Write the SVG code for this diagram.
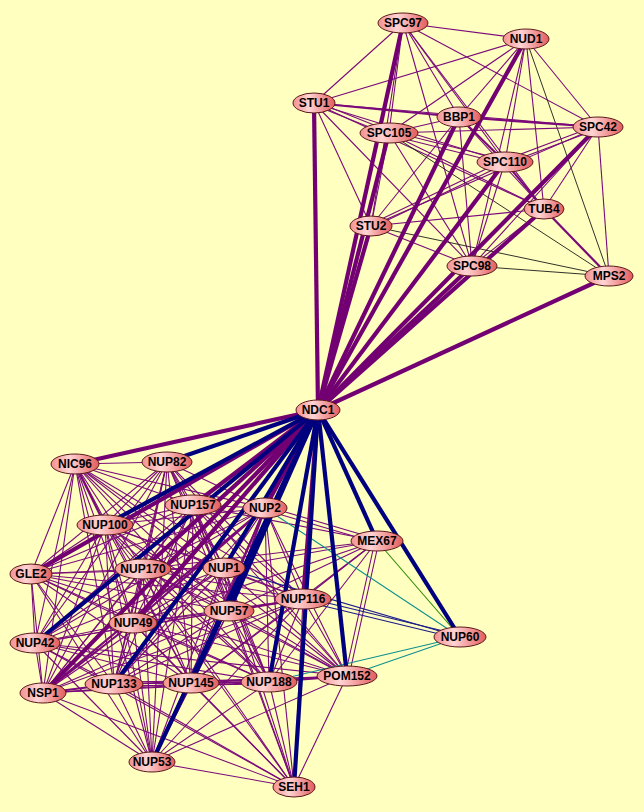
<svg xmlns="http://www.w3.org/2000/svg" width="644" height="812" viewBox="0 0 644 812">
<defs>
<linearGradient id="ng" x1="0" y1="0" x2="1" y2="0">
<stop offset="0" stop-color="#f29090"/>
<stop offset="0.38" stop-color="#ffd4d4"/>
<stop offset="1" stop-color="#e45c5c"/>
</linearGradient>
<style>
.t{stroke:#7a0a7a;stroke-width:1.1;fill:none}
.m{stroke:#7a0a7a;stroke-width:2.2;fill:none}
.k{stroke:#1a1a1a;stroke-width:0.9;fill:none}
.tl{stroke:#0f8f8f;stroke-width:1.1;fill:none}
.gr{stroke:#2a8a00;stroke-width:1.1;fill:none}
.nv{stroke:#1a1a8a;stroke-width:1.2;fill:none}
.P{stroke:#720072;stroke-width:4.2;fill:none}
.N{stroke:#00007f;stroke-width:4.2;fill:none}
.n ellipse{fill:url(#ng);stroke:#5a1a1a;stroke-width:1}
.n text{font-family:"Liberation Sans",Arial,sans-serif;font-weight:bold;font-size:12px;fill:#000;text-anchor:middle}
</style>
</defs>
<rect width="644" height="812" fill="#ffffc0"/>
<g id="connectors">
<!-- upper cluster thin -->
<line class="t" x1="403" y1="23" x2="526" y2="39"/>
<line class="t" x1="403" y1="23" x2="314" y2="103"/>
<line class="t" x1="403" y1="23" x2="598" y2="127"/>
<line class="t" x1="403" y1="23" x2="505" y2="162"/>
<line class="t" x1="403" y1="23" x2="544" y2="209"/>
<line class="t" x1="403" y1="23" x2="472" y2="266"/>
<line class="t" x1="403" y1="23" x2="459" y2="117"/>
<line class="t" x1="403" y1="23" x2="389" y2="133"/>
<line class="t" x1="403" y1="23" x2="371" y2="226"/>
<line class="t" x1="526" y1="39" x2="314" y2="103"/>
<line class="t" x1="526" y1="39" x2="389" y2="133"/>
<line class="t" x1="526" y1="39" x2="459" y2="117"/>
<line class="t" x1="526" y1="39" x2="505" y2="162"/>
<line class="t" x1="526" y1="39" x2="544" y2="209"/>
<line class="t" x1="526" y1="39" x2="598" y2="127"/>
<line class="t" x1="526" y1="39" x2="472" y2="266"/>
<line class="k" x1="526" y1="39" x2="609" y2="276"/>
<line class="m" x1="314" y1="103" x2="459" y2="117"/>
<line class="t" x1="314" y1="101" x2="389" y2="131"/>
<line class="t" x1="314" y1="105" x2="389" y2="135"/>
<line class="t" x1="314" y1="103" x2="505" y2="162"/>
<line class="t" x1="314" y1="103" x2="598" y2="127"/>
<line class="t" x1="314" y1="103" x2="544" y2="209"/>
<line class="t" x1="314" y1="103" x2="371" y2="226"/>
<line class="t" x1="314" y1="103" x2="472" y2="266"/>
<line class="t" x1="459" y1="117" x2="389" y2="133"/>
<line class="m" x1="459" y1="117" x2="598" y2="127"/>
<line class="m" x1="459" y1="117" x2="505" y2="162"/>
<line class="t" x1="459" y1="117" x2="544" y2="209"/>
<line class="t" x1="459" y1="117" x2="371" y2="226"/>
<line class="t" x1="459" y1="117" x2="472" y2="266"/>
<line class="t" x1="389" y1="133" x2="598" y2="127"/>
<line class="t" x1="389" y1="131" x2="505" y2="160"/>
<line class="t" x1="389" y1="135" x2="505" y2="164"/>
<line class="t" x1="389" y1="133" x2="544" y2="209"/>
<line class="t" x1="389" y1="133" x2="371" y2="226"/>
<line class="t" x1="389" y1="133" x2="472" y2="266"/>
<line class="k" x1="389" y1="133" x2="609" y2="276"/>
<line class="t" x1="598" y1="125" x2="505" y2="160"/>
<line class="t" x1="598" y1="129" x2="505" y2="164"/>
<line class="t" x1="598" y1="127" x2="544" y2="209"/>
<line class="t" x1="598" y1="127" x2="371" y2="226"/>
<line class="t" x1="598" y1="127" x2="472" y2="266"/>
<line class="t" x1="598" y1="127" x2="609" y2="276"/>
<line class="m" x1="505" y1="162" x2="544" y2="209"/>
<line class="t" x1="505" y1="160" x2="371" y2="224"/>
<line class="t" x1="505" y1="164" x2="371" y2="228"/>
<line class="t" x1="505" y1="162" x2="472" y2="266"/>
<line class="t" x1="544" y1="209" x2="371" y2="226"/>
<line class="t" x1="544" y1="209" x2="472" y2="266"/>
<line class="m" x1="544" y1="209" x2="609" y2="276"/>
<line class="t" x1="371" y1="226" x2="472" y2="266"/>
<line class="k" x1="371" y1="226" x2="609" y2="276"/>
<line class="k" x1="472" y1="266" x2="609" y2="276"/>
<!-- lower cluster thin -->
<line class="t" x1="75" y1="464" x2="167" y2="462"/>
<line class="t" x1="75" y1="464" x2="193" y2="505"/>
<line class="t" x1="75" y1="464" x2="265" y2="508"/>
<line class="m" x1="75" y1="464" x2="105" y2="525"/>
<line class="t" x1="75" y1="464" x2="31" y2="574"/>
<line class="t" x1="75" y1="464" x2="143" y2="569"/>
<line class="t" x1="75" y1="464" x2="224" y2="568"/>
<line class="t" x1="75" y1="464" x2="303" y2="599"/>
<line class="t" x1="75" y1="464" x2="229" y2="611"/>
<line class="t" x1="75" y1="464" x2="133" y2="623"/>
<line class="t" x1="75" y1="464" x2="35" y2="643"/>
<line class="t" x1="75" y1="464" x2="43" y2="693"/>
<line class="t" x1="75" y1="464" x2="114" y2="684"/>
<line class="t" x1="75" y1="464" x2="191" y2="683"/>
<line class="t" x1="75" y1="464" x2="269" y2="682"/>
<line class="t" x1="75" y1="464" x2="347" y2="676"/>
<line class="t" x1="75" y1="464" x2="152" y2="762"/>
<line class="t" x1="167" y1="462" x2="193" y2="505"/>
<line class="t" x1="167" y1="462" x2="265" y2="508"/>
<line class="t" x1="167" y1="462" x2="105" y2="525"/>
<line class="t" x1="167" y1="462" x2="31" y2="574"/>
<line class="t" x1="167" y1="462" x2="143" y2="569"/>
<line class="t" x1="167" y1="462" x2="224" y2="568"/>
<line class="t" x1="167" y1="462" x2="303" y2="599"/>
<line class="t" x1="167" y1="462" x2="229" y2="611"/>
<line class="t" x1="167" y1="462" x2="133" y2="623"/>
<line class="t" x1="167" y1="462" x2="35" y2="643"/>
<line class="t" x1="167" y1="462" x2="43" y2="693"/>
<line class="t" x1="167" y1="462" x2="114" y2="684"/>
<line class="t" x1="167" y1="462" x2="191" y2="683"/>
<line class="t" x1="167" y1="462" x2="269" y2="682"/>
<line class="t" x1="167" y1="462" x2="347" y2="676"/>
<line class="t" x1="167" y1="462" x2="152" y2="762"/>
<line class="t" x1="193" y1="505" x2="265" y2="508"/>
<line class="t" x1="193" y1="505" x2="105" y2="525"/>
<line class="t" x1="193" y1="505" x2="31" y2="574"/>
<line class="t" x1="193" y1="505" x2="143" y2="569"/>
<line class="t" x1="193" y1="505" x2="224" y2="568"/>
<line class="t" x1="193" y1="505" x2="303" y2="599"/>
<line class="t" x1="193" y1="505" x2="229" y2="611"/>
<line class="t" x1="193" y1="505" x2="133" y2="623"/>
<line class="t" x1="193" y1="505" x2="35" y2="643"/>
<line class="t" x1="193" y1="505" x2="43" y2="693"/>
<line class="t" x1="193" y1="505" x2="114" y2="684"/>
<line class="t" x1="193" y1="505" x2="191" y2="683"/>
<line class="t" x1="193" y1="505" x2="269" y2="682"/>
<line class="t" x1="193" y1="505" x2="347" y2="676"/>
<line class="t" x1="193" y1="505" x2="152" y2="762"/>
<line class="t" x1="193" y1="505" x2="294" y2="787"/>
<line class="t" x1="265" y1="508" x2="105" y2="525"/>
<line class="t" x1="265" y1="508" x2="31" y2="574"/>
<line class="t" x1="265" y1="508" x2="143" y2="569"/>
<line class="t" x1="265" y1="508" x2="224" y2="568"/>
<line class="t" x1="265" y1="508" x2="303" y2="599"/>
<line class="m" x1="265" y1="508" x2="229" y2="611"/>
<line class="m" x1="265" y1="508" x2="133" y2="623"/>
<line class="t" x1="265" y1="508" x2="35" y2="643"/>
<line class="m" x1="265" y1="508" x2="43" y2="693"/>
<line class="t" x1="265" y1="508" x2="114" y2="684"/>
<line class="m" x1="265" y1="508" x2="191" y2="683"/>
<line class="t" x1="265" y1="508" x2="269" y2="682"/>
<line class="t" x1="265" y1="508" x2="347" y2="676"/>
<line class="t" x1="265" y1="508" x2="152" y2="762"/>
<line class="t" x1="265" y1="508" x2="294" y2="787"/>
<line class="t" x1="105" y1="525" x2="31" y2="574"/>
<line class="t" x1="105" y1="525" x2="143" y2="569"/>
<line class="t" x1="105" y1="525" x2="224" y2="568"/>
<line class="t" x1="105" y1="525" x2="303" y2="599"/>
<line class="t" x1="105" y1="525" x2="229" y2="611"/>
<line class="t" x1="105" y1="525" x2="133" y2="623"/>
<line class="t" x1="105" y1="525" x2="35" y2="643"/>
<line class="t" x1="105" y1="525" x2="43" y2="693"/>
<line class="t" x1="105" y1="525" x2="114" y2="684"/>
<line class="t" x1="105" y1="525" x2="191" y2="683"/>
<line class="t" x1="105" y1="525" x2="269" y2="682"/>
<line class="t" x1="105" y1="525" x2="347" y2="676"/>
<line class="t" x1="105" y1="525" x2="152" y2="762"/>
<line class="t" x1="105" y1="525" x2="294" y2="787"/>
<line class="t" x1="31" y1="574" x2="143" y2="569"/>
<line class="t" x1="31" y1="574" x2="224" y2="568"/>
<line class="t" x1="31" y1="574" x2="303" y2="599"/>
<line class="t" x1="31" y1="574" x2="229" y2="611"/>
<line class="t" x1="31" y1="574" x2="133" y2="623"/>
<line class="t" x1="31" y1="574" x2="35" y2="643"/>
<line class="t" x1="31" y1="574" x2="43" y2="693"/>
<line class="t" x1="31" y1="574" x2="114" y2="684"/>
<line class="t" x1="31" y1="574" x2="191" y2="683"/>
<line class="t" x1="31" y1="574" x2="269" y2="682"/>
<line class="t" x1="31" y1="574" x2="347" y2="676"/>
<line class="t" x1="31" y1="574" x2="152" y2="762"/>
<line class="t" x1="143" y1="569" x2="224" y2="568"/>
<line class="t" x1="143" y1="569" x2="303" y2="599"/>
<line class="t" x1="143" y1="569" x2="229" y2="611"/>
<line class="t" x1="143" y1="569" x2="133" y2="623"/>
<line class="t" x1="143" y1="569" x2="35" y2="643"/>
<line class="t" x1="143" y1="569" x2="43" y2="693"/>
<line class="t" x1="143" y1="569" x2="114" y2="684"/>
<line class="t" x1="143" y1="569" x2="191" y2="683"/>
<line class="t" x1="143" y1="569" x2="269" y2="682"/>
<line class="t" x1="143" y1="569" x2="347" y2="676"/>
<line class="t" x1="143" y1="569" x2="152" y2="762"/>
<line class="t" x1="143" y1="569" x2="294" y2="787"/>
<line class="t" x1="224" y1="568" x2="303" y2="599"/>
<line class="t" x1="224" y1="568" x2="229" y2="611"/>
<line class="t" x1="224" y1="568" x2="133" y2="623"/>
<line class="t" x1="224" y1="568" x2="35" y2="643"/>
<line class="t" x1="224" y1="568" x2="43" y2="693"/>
<line class="t" x1="224" y1="568" x2="114" y2="684"/>
<line class="t" x1="224" y1="568" x2="191" y2="683"/>
<line class="t" x1="224" y1="568" x2="269" y2="682"/>
<line class="t" x1="224" y1="568" x2="347" y2="676"/>
<line class="t" x1="224" y1="568" x2="152" y2="762"/>
<line class="t" x1="224" y1="568" x2="294" y2="787"/>
<line class="m" x1="303" y1="599" x2="229" y2="611"/>
<line class="t" x1="303" y1="599" x2="133" y2="623"/>
<line class="t" x1="303" y1="599" x2="35" y2="643"/>
<line class="t" x1="303" y1="599" x2="43" y2="693"/>
<line class="t" x1="303" y1="599" x2="114" y2="684"/>
<line class="t" x1="303" y1="599" x2="191" y2="683"/>
<line class="t" x1="303" y1="599" x2="269" y2="682"/>
<line class="t" x1="303" y1="599" x2="347" y2="676"/>
<line class="t" x1="303" y1="599" x2="152" y2="762"/>
<line class="t" x1="303" y1="599" x2="294" y2="787"/>
<line class="t" x1="229" y1="611" x2="133" y2="623"/>
<line class="t" x1="229" y1="611" x2="35" y2="643"/>
<line class="t" x1="229" y1="611" x2="43" y2="693"/>
<line class="t" x1="229" y1="611" x2="114" y2="684"/>
<line class="t" x1="229" y1="611" x2="191" y2="683"/>
<line class="t" x1="229" y1="611" x2="269" y2="682"/>
<line class="t" x1="229" y1="611" x2="347" y2="676"/>
<line class="t" x1="229" y1="611" x2="152" y2="762"/>
<line class="t" x1="229" y1="611" x2="294" y2="787"/>
<line class="t" x1="133" y1="623" x2="35" y2="643"/>
<line class="m" x1="133" y1="623" x2="43" y2="693"/>
<line class="t" x1="133" y1="623" x2="114" y2="684"/>
<line class="t" x1="133" y1="623" x2="191" y2="683"/>
<line class="t" x1="133" y1="623" x2="269" y2="682"/>
<line class="t" x1="133" y1="623" x2="347" y2="676"/>
<line class="t" x1="133" y1="623" x2="152" y2="762"/>
<line class="t" x1="133" y1="623" x2="294" y2="787"/>
<line class="t" x1="35" y1="643" x2="43" y2="693"/>
<line class="t" x1="35" y1="643" x2="114" y2="684"/>
<line class="t" x1="35" y1="643" x2="191" y2="683"/>
<line class="t" x1="35" y1="643" x2="269" y2="682"/>
<line class="t" x1="35" y1="643" x2="347" y2="676"/>
<line class="t" x1="35" y1="643" x2="152" y2="762"/>
<line class="t" x1="35" y1="643" x2="294" y2="787"/>
<line class="m" x1="43" y1="693" x2="114" y2="684"/>
<line class="t" x1="43" y1="693" x2="191" y2="683"/>
<line class="t" x1="43" y1="693" x2="269" y2="682"/>
<line class="t" x1="43" y1="693" x2="347" y2="676"/>
<line class="t" x1="43" y1="693" x2="152" y2="762"/>
<line class="t" x1="43" y1="693" x2="294" y2="787"/>
<line class="t" x1="114" y1="682" x2="191" y2="681"/>
<line class="t" x1="114" y1="686" x2="191" y2="685"/>
<line class="t" x1="114" y1="684" x2="269" y2="682"/>
<line class="t" x1="114" y1="684" x2="347" y2="676"/>
<line class="t" x1="114" y1="684" x2="152" y2="762"/>
<line class="t" x1="114" y1="684" x2="294" y2="787"/>
<line class="t" x1="191" y1="681" x2="269" y2="680"/>
<line class="t" x1="191" y1="685" x2="269" y2="684"/>
<line class="t" x1="191" y1="683" x2="347" y2="676"/>
<line class="t" x1="191" y1="683" x2="152" y2="762"/>
<line class="t" x1="191" y1="683" x2="294" y2="787"/>
<line class="m" x1="269" y1="682" x2="347" y2="676"/>
<line class="t" x1="269" y1="682" x2="152" y2="762"/>
<line class="t" x1="269" y1="682" x2="294" y2="787"/>
<line class="t" x1="347" y1="676" x2="152" y2="762"/>
<line class="t" x1="347" y1="676" x2="294" y2="787"/>
<line class="t" x1="152" y1="762" x2="294" y2="787"/>
<!-- MEX67 -->
<line class="t" x1="377" y1="539" x2="265" y2="506"/>
<line class="t" x1="377" y1="543" x2="265" y2="510"/>
<line class="t" x1="377" y1="541" x2="193" y2="505"/>
<line class="t" x1="377" y1="541" x2="224" y2="568"/>
<line class="t" x1="377" y1="541" x2="143" y2="569"/>
<line class="t" x1="377" y1="541" x2="229" y2="611"/>
<line class="t" x1="377" y1="541" x2="303" y2="599"/>
<line class="t" x1="377" y1="541" x2="269" y2="682"/>
<line class="t" x1="375" y1="541" x2="345" y2="676"/>
<line class="t" x1="379" y1="541" x2="349" y2="676"/>
<line class="t" x1="377" y1="541" x2="191" y2="683"/>
<line class="t" x1="377" y1="541" x2="133" y2="623"/>
<!-- NUP60 -->
<line class="gr" x1="377" y1="541" x2="460" y2="637"/>
<line class="tl" x1="265" y1="508" x2="460" y2="637"/>
<line class="tl" x1="347" y1="676" x2="460" y2="637"/>
<line class="tl" x1="269" y1="682" x2="460" y2="637"/>
<line class="nv" x1="303" y1="597" x2="460" y2="635"/>
<line class="nv" x1="303" y1="601" x2="460" y2="639"/>
<line class="nv" x1="224" y1="568" x2="460" y2="637"/>
<!-- NDC1 thick to upper -->
<line class="P" x1="318" y1="410" x2="314" y2="103"/>
<line class="P" x1="318" y1="410" x2="403" y2="23"/>
<line class="P" x1="318" y1="410" x2="389" y2="133"/>
<line class="P" x1="318" y1="410" x2="371" y2="226"/>
<line class="P" x1="318" y1="410" x2="459" y2="117"/>
<line class="P" x1="318" y1="410" x2="526" y2="39"/>
<line class="P" x1="318" y1="410" x2="505" y2="162"/>
<line class="P" x1="318" y1="410" x2="598" y2="127"/>
<line class="P" x1="318" y1="410" x2="544" y2="209"/>
<line class="P" x1="318" y1="410" x2="472" y2="266"/>
<line class="P" x1="318" y1="410" x2="609" y2="276"/>
<!-- NDC1 thick to lower -->
<line class="P" x1="318" y1="410" x2="75" y2="464"/>
<line class="P" x1="318" y1="410" x2="31" y2="574"/>
<line class="P" x1="318" y1="410" x2="193" y2="505"/>
<line class="P" x1="318" y1="410" x2="143" y2="569"/>
<line class="P" x1="318" y1="410" x2="133" y2="623"/>
<line class="P" x1="318" y1="410" x2="43" y2="693"/>
<line class="P" x1="318" y1="410" x2="265" y2="508"/>
<line class="P" x1="318" y1="410" x2="303" y2="599"/>
<line class="N" x1="318" y1="410" x2="167" y2="462"/>
<line class="N" x1="318" y1="410" x2="105" y2="525"/>
<line class="N" x1="318" y1="410" x2="35" y2="643"/>
<line class="N" x1="318" y1="410" x2="114" y2="684"/>
<line class="N" x1="318" y1="410" x2="152" y2="762"/>
<line class="N" x1="318" y1="410" x2="191" y2="683"/>
<line class="N" x1="318" y1="410" x2="224" y2="568"/>
<line class="N" x1="318" y1="410" x2="229" y2="611"/>
<line class="N" x1="318" y1="410" x2="269" y2="682"/>
<line class="N" x1="318" y1="410" x2="294" y2="787"/>
<line class="N" x1="318" y1="410" x2="347" y2="676"/>
<line class="N" x1="318" y1="410" x2="377" y2="541"/>
<line class="N" x1="318" y1="410" x2="460" y2="637"/>
</g>
<g id="SPC97" class="n"><ellipse cx="403" cy="23" rx="25" ry="10"/><text x="403" y="27">SPC97</text></g>
<g id="NUD1" class="n"><ellipse cx="526" cy="39" rx="23" ry="10"/><text x="526" y="43">NUD1</text></g>
<g id="STU1" class="n"><ellipse cx="314" cy="103" rx="21" ry="10"/><text x="314" y="107">STU1</text></g>
<g id="BBP1" class="n"><ellipse cx="459" cy="117" rx="22" ry="10"/><text x="459" y="121">BBP1</text></g>
<g id="SPC105" class="n"><ellipse cx="389" cy="133" rx="29" ry="10"/><text x="389" y="137">SPC105</text></g>
<g id="SPC42" class="n"><ellipse cx="598" cy="127" rx="25" ry="10"/><text x="598" y="131">SPC42</text></g>
<g id="SPC110" class="n"><ellipse cx="505" cy="162" rx="28" ry="10"/><text x="505" y="166">SPC110</text></g>
<g id="TUB4" class="n"><ellipse cx="544" cy="209" rx="20" ry="10"/><text x="544" y="213">TUB4</text></g>
<g id="STU2" class="n"><ellipse cx="371" cy="226" rx="21" ry="10"/><text x="371" y="230">STU2</text></g>
<g id="SPC98" class="n"><ellipse cx="472" cy="266" rx="25" ry="10"/><text x="472" y="270">SPC98</text></g>
<g id="MPS2" class="n"><ellipse cx="609" cy="276" rx="24" ry="10"/><text x="609" y="280">MPS2</text></g>
<g id="NDC1" class="n"><ellipse cx="318" cy="410" rx="22" ry="10"/><text x="318" y="414">NDC1</text></g>
<g id="NIC96" class="n"><ellipse cx="75" cy="464" rx="24" ry="10"/><text x="75" y="468">NIC96</text></g>
<g id="NUP82" class="n"><ellipse cx="167" cy="462" rx="25" ry="10"/><text x="167" y="466">NUP82</text></g>
<g id="NUP157" class="n"><ellipse cx="193" cy="505" rx="28" ry="10"/><text x="193" y="509">NUP157</text></g>
<g id="NUP2" class="n"><ellipse cx="265" cy="508" rx="22" ry="10"/><text x="265" y="512">NUP2</text></g>
<g id="NUP100" class="n"><ellipse cx="105" cy="525" rx="28" ry="10"/><text x="105" y="529">NUP100</text></g>
<g id="MEX67" class="n"><ellipse cx="377" cy="541" rx="26" ry="10"/><text x="377" y="545">MEX67</text></g>
<g id="GLE2" class="n"><ellipse cx="31" cy="574" rx="21" ry="10"/><text x="31" y="578">GLE2</text></g>
<g id="NUP170" class="n"><ellipse cx="143" cy="569" rx="28" ry="10"/><text x="143" y="573">NUP170</text></g>
<g id="NUP1" class="n"><ellipse cx="224" cy="568" rx="21" ry="10"/><text x="224" y="572">NUP1</text></g>
<g id="NUP116" class="n"><ellipse cx="303" cy="599" rx="28" ry="10"/><text x="303" y="603">NUP116</text></g>
<g id="NUP57" class="n"><ellipse cx="229" cy="611" rx="25" ry="10"/><text x="229" y="615">NUP57</text></g>
<g id="NUP49" class="n"><ellipse cx="133" cy="623" rx="24" ry="10"/><text x="133" y="627">NUP49</text></g>
<g id="NUP42" class="n"><ellipse cx="35" cy="643" rx="25" ry="10"/><text x="35" y="647">NUP42</text></g>
<g id="NUP60" class="n"><ellipse cx="460" cy="637" rx="26" ry="10"/><text x="460" y="641">NUP60</text></g>
<g id="NSP1" class="n"><ellipse cx="43" cy="693" rx="23" ry="10"/><text x="43" y="697">NSP1</text></g>
<g id="NUP133" class="n"><ellipse cx="114" cy="684" rx="29" ry="10"/><text x="114" y="688">NUP133</text></g>
<g id="NUP145" class="n"><ellipse cx="191" cy="683" rx="28" ry="10"/><text x="191" y="687">NUP145</text></g>
<g id="NUP188" class="n"><ellipse cx="269" cy="682" rx="28" ry="10"/><text x="269" y="686">NUP188</text></g>
<g id="POM152" class="n"><ellipse cx="347" cy="676" rx="30" ry="10"/><text x="347" y="680">POM152</text></g>
<g id="NUP53" class="n"><ellipse cx="152" cy="762" rx="23" ry="10"/><text x="152" y="766">NUP53</text></g>
<g id="SEH1" class="n"><ellipse cx="294" cy="787" rx="21" ry="10"/><text x="294" y="791">SEH1</text></g>
</svg>
